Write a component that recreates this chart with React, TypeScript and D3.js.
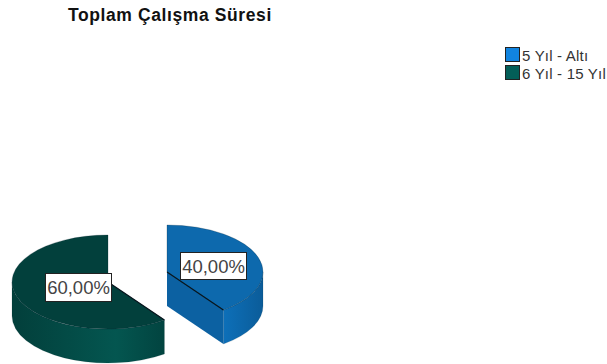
import React from "react";
import * as d3 from "d3";

const title = "Toplam Çalışma Süresi";
const categories = ["5 Yıl - Altı", "6 Yıl - 15 Yıl"];
const values = [40, 60];
const valueLabels = ["40,00%", "60,00%"];
const topColors = ["#0d69ad", "#02403c"];
const legendColors = ["#1184e0", "#035e58"];
const cutColors = ["#0c61a2", "#023f3b"];
const centers = [[167, 272], [108, 282]];
const labelBoxes = [[180, 252, 66, 27], [45, 273, 66, 28]];

const RX = 96;
const RY = 47;
const DEPTH = 34;

const pie = d3.pie<number>().sort(null).startAngle(0).endAngle(2 * Math.PI);
const arcs = pie(values);
const arcGen = d3.arc<d3.PieArcDatum<number>>().innerRadius(0).outerRadius(1);
const xS = d3.scaleLinear().domain([-1, 1]).range([-RX, RX]);
const yS = d3.scaleLinear().domain([-1, 1]).range([-RY, RY]);

function pt(a: number, cx: number, cy: number, dy = 0): [number, number] {
  return [cx + xS(Math.sin(a)), cy + yS(-Math.cos(a)) + dy];
}
function wall(a0: number, a1: number, cx: number, cy: number) {
  const [x0, y0] = pt(a0, cx, cy);
  const [x1, y1] = pt(a1, cx, cy);
  const [x2, y2] = pt(a1, cx, cy, DEPTH);
  const [x3, y3] = pt(a0, cx, cy, DEPTH);
  return `M${x0},${y0}A${RX},${RY} 0 0 1 ${x1},${y1}L${x2},${y2}A${RX},${RY} 0 0 0 ${x3},${y3}Z`;
}

export default function App() {
  const font = "'Liberation Sans', Arial, sans-serif";
  return (
    <svg width={607} height={364} style={{ position: "absolute", left: 0, top: 0 }} fontFamily={font}>
      <defs>
        <linearGradient id="wall0" gradientUnits="userSpaceOnUse" x1={167} x2={263} y1={0} y2={0}>
          <stop offset="0" stopColor="#0d62a3" />
          <stop offset="0.6" stopColor="#0d6fb8" />
          <stop offset="1" stopColor="#0b5c99" />
        </linearGradient>
        <linearGradient id="wall1" gradientUnits="userSpaceOnUse" x1={13} x2={164} y1={0} y2={0}>
          <stop offset="0" stopColor="#023f3b" />
          <stop offset="0.68" stopColor="#045650" />
          <stop offset="1" stopColor="#024440" />
        </linearGradient>
      </defs>
      <text x={68} y={21} fontSize={17.5} letterSpacing={0.6} fontWeight="bold" fill="#111">{title}</text>
      {categories.map((c, i) => (
        <g key={c}>
          <rect x={505.5} y={47.5 + i * 18} width={14} height={14} fill={legendColors[i]} stroke="#222" />
          <text x={522} y={61 + i * 17.5} fontSize={15} letterSpacing={0.2} fill="#333">{c}</text>
        </g>
      ))}
      {arcs.map((d, i) => {
        const [cx, cy] = centers[i];
        const a0 = d.startAngle;
        const a1 = d.endAngle;
        const isBlue = i === 0;
        const w0 = Math.max(a0, Math.PI / 2);
        const w1 = Math.min(a1, (3 * Math.PI) / 2);
        const [ex, ey] = pt(isBlue ? a1 : a0, cx, cy);
        return (
          <g key={i}>
            <path d={wall(w0, w1, cx, cy)} fill={`url(#wall${i})`} stroke="#01202a" strokeOpacity={0.25} strokeWidth={0.5} />
            {isBlue && (
              <path
                d={`M${cx},${cy}L${ex},${ey}L${ex},${ey + DEPTH}L${cx},${cy + DEPTH}Z`}
                fill={cutColors[i]}
              />
            )}
            <path
              transform={`translate(${cx},${cy}) scale(${xS(1)},${yS(1)})`}
              d={arcGen(d) as string}
              fill={topColors[i]}
              stroke="#0a2030"
              strokeOpacity={0.4}
              strokeWidth={0.6}
              vectorEffect="non-scaling-stroke"
            />
            <path d={`M${cx},${cy}L${ex},${ey}`} stroke="#06141c" strokeWidth={1.2} />
          </g>
        );
      })}
      {valueLabels.map((t, i) => {
        const [x, y, w, h] = labelBoxes[i];
        return (
          <g key={t}>
            <rect x={x + 0.5} y={y + 0.5} width={w} height={h} fill="#fff" stroke="#222" />
            <text x={x + w / 2 + 0.5} y={y + h / 2 + 7} textAnchor="middle" fontSize={18.5} fill="#444">{t}</text>
          </g>
        );
      })}
    </svg>
  );
}
